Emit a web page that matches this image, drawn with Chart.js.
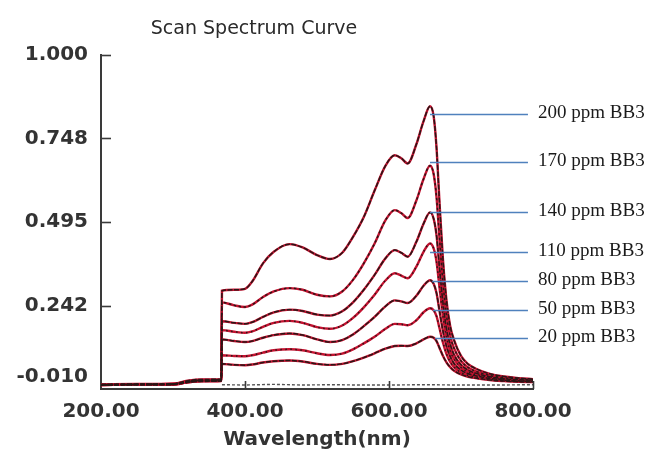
<!DOCTYPE html>
<html><head><meta charset="utf-8">
<script src="https://cdn.jsdelivr.net/npm/chart.js@4.4.1/dist/chart.umd.min.js"></script>
<style>html,body{margin:0;padding:0;background:#fff}canvas{display:block}</style>
</head><body>
<canvas id="c" width="652" height="456"></canvas>
<script>
const chartTitle = 'Scan Spectrum Curve';
const xAxisTitle = 'Wavelength(nm)';
const xTicks = [200, 400, 600, 800];
const yTicks = [-0.010, 0.242, 0.495, 0.748, 1.000];
const seriesNames = ['200 ppm BB3', '170 ppm BB3', '140 ppm BB3', '110 ppm BB3', '80 ppm BB3', '50 ppm BB3', '20 ppm BB3'];

const wavelengths = [200, 250, 300, 320, 340, 367, 368, 385, 400, 410, 425, 440, 462, 480, 500, 518, 535, 550, 565, 580, 595, 608, 617, 626, 638, 648, 657, 662, 666, 670, 675, 680, 685, 690, 700, 710, 720, 740, 760, 780, 800];

const ppm200 = [0.004,0.005,0.006,0.015,0.019,0.020, 0.287,0.290,0.293,0.315,0.370,0.405, 0.428,0.418,0.395,0.383,0.402, 0.450,0.510,0.590,0.665,0.697, 0.688,0.672,0.730,0.800,0.845, 0.815,0.720,0.560,0.380,0.255, 0.180,0.140,0.090,0.065,0.052, 0.036,0.028,0.023,0.020];
const ppm170 = [0.003,0.004,0.005,0.013,0.017,0.018, 0.252,0.243,0.238,0.245,0.268,0.285, 0.295,0.290,0.275,0.270,0.285, 0.320,0.370,0.430,0.500,0.531, 0.522,0.507,0.560,0.625,0.665, 0.640,0.570,0.450,0.310,0.210, 0.150,0.115,0.075,0.055,0.044, 0.031,0.024,0.020,0.018];
const ppm140 = [0.003,0.004,0.005,0.012,0.016,0.017, 0.195,0.190,0.187,0.192,0.208,0.222, 0.230,0.226,0.215,0.212,0.225, 0.252,0.290,0.335,0.385,0.410, 0.402,0.390,0.435,0.490,0.524, 0.505,0.455,0.360,0.250,0.170, 0.125,0.095,0.063,0.047,0.038, 0.027,0.021,0.018,0.016];
const ppm110 = [0.003,0.004,0.005,0.012,0.015,0.016, 0.168,0.163,0.160,0.164,0.178,0.190, 0.196,0.190,0.177,0.172,0.182, 0.205,0.237,0.275,0.318,0.340, 0.333,0.325,0.360,0.405,0.430, 0.415,0.375,0.300,0.210,0.145, 0.105,0.082,0.055,0.041,0.034, 0.025,0.019,0.016,0.014];
const ppm80 = [0.002,0.003,0.004,0.011,0.015,0.016, 0.140,0.135,0.132,0.135,0.145,0.153, 0.158,0.153,0.140,0.132,0.138, 0.155,0.180,0.208,0.240,0.258, 0.255,0.250,0.272,0.302,0.319, 0.308,0.280,0.228,0.165,0.118, 0.088,0.068,0.047,0.036,0.030, 0.022,0.017,0.014,0.013];
const ppm50 = [0.002,0.003,0.004,0.010,0.014,0.015, 0.092,0.090,0.089,0.092,0.100,0.107, 0.110,0.107,0.098,0.093,0.097, 0.110,0.128,0.148,0.172,0.187, 0.186,0.183,0.198,0.222,0.234, 0.228,0.210,0.175,0.130,0.095, 0.072,0.057,0.040,0.031,0.026, 0.019,0.015,0.013,0.012];
const ppm20 = [0.002,0.003,0.003,0.010,0.013,0.014, 0.066,0.063,0.062,0.064,0.070,0.074, 0.076,0.073,0.066,0.063,0.066, 0.074,0.085,0.098,0.112,0.120, 0.121,0.120,0.128,0.140,0.148, 0.145,0.135,0.115,0.090,0.070, 0.056,0.046,0.034,0.027,0.023, 0.017,0.014,0.012,0.011];

const blankWavelengths = [368, 400, 440, 480, 520, 560, 600, 650, 700, 750, 800];
const blankValues = [0.003, 0.002, 0.004, 0.002, 0.003, 0.002, 0.002, 0.003, 0.002, 0.002, 0.003];

const labelLevels = [0.823, 0.677, 0.526, 0.405, 0.317, 0.229, 0.143];
const labelLineStart = [657, 657, 657, 657, 660, 661, 664];
const labelLineEnd = 793;
const labelTextX = 807;

const allSeries = [ppm200, ppm170, ppm140, ppm110, ppm80, ppm50, ppm20];
const overlayDash = [[5,1.5],[2.5,2.5],[5,1.5],[1.5,3.5],[5,1.5],[1.5,3.5],[5,1.5]];

const datasets = [];
datasets.push({
  label: 'blank', order: 3,
  data: blankWavelengths.map((w, i) => ({x: w, y: blankValues[i]})),
  borderColor: '#555', borderWidth: 1.4, borderDash: [3, 2], pointRadius: 0, tension: 0
});
allSeries.forEach((s, k) => {
  const pts = wavelengths.map((w, i) => ({x: w, y: s[i]}));
  datasets.push({label: seriesNames[k], order: 2, data: pts, borderColor: '#c41230', borderWidth: 2.4,
    pointRadius: 0, cubicInterpolationMode: 'monotone'});
  datasets.push({label: seriesNames[k] + ' ', order: 1, data: pts, borderColor: '#2a1616', borderWidth: 1.5,
    borderDash: overlayDash[k], pointRadius: 0, cubicInterpolationMode: 'monotone'});
});

const axisColor = '#3a3a3a';
const decor = {
  id: 'decor',
  afterDraw(chart) {
    const {ctx, scales: {x, y}} = chart;
    ctx.save();
    ctx.strokeStyle = axisColor; ctx.lineWidth = 1.6;
    yTicks.forEach((v, i) => {
      if (i === 0) return;
      const py = Math.round(y.getPixelForValue(v)) + 0.5;
      ctx.beginPath(); ctx.moveTo(x.left, py); ctx.lineTo(x.left + 10, py); ctx.stroke();
    });
    xTicks.forEach((v, i) => {
      if (i === 0) return;
      const px = Math.round(x.getPixelForValue(v)) + 0.5;
      ctx.beginPath(); ctx.moveTo(px, y.bottom); ctx.lineTo(px, y.bottom - 8); ctx.stroke();
    });
    ctx.strokeStyle = '#4f81bd'; ctx.lineWidth = 1.4;
    ctx.fillStyle = '#1a1a1a';
    ctx.font = '19px "Liberation Serif"';
    ctx.textAlign = 'left'; ctx.textBaseline = 'middle';
    seriesNames.forEach((name, i) => {
      const py = Math.round(y.getPixelForValue(labelLevels[i])) + 0.5;
      ctx.beginPath();
      ctx.moveTo(x.getPixelForValue(labelLineStart[i]), py);
      ctx.lineTo(x.getPixelForValue(labelLineEnd), py);
      ctx.stroke();
      ctx.fillText(name, x.getPixelForValue(labelTextX), py - 1);
    });
    ctx.font = '19px "DejaVu Sans"';
    ctx.fillStyle = '#2a2a2a';
    ctx.textAlign = 'center';
    ctx.fillText(chartTitle, 254, 29);
    ctx.restore();
  }
};

const tickFont = {family: 'DejaVu Sans', size: 20, weight: 'bold'};
new Chart(document.getElementById('c'), {
  type: 'line',
  data: {datasets},
  options: {
    responsive: false, animation: false,
    layout: {padding: {top: 55, right: 119, bottom: 0, left: 0}},
    plugins: {legend: {display: false}, tooltip: {enabled: false}, title: {display: false}},
    scales: {
      x: {
        type: 'linear', min: 200, max: 800,
        afterBuildTicks: s => { s.ticks = xTicks.map(v => ({value: v})); },
        afterFit: s => { s.height = 67; },
        grid: {display: false, drawTicks: false},
        border: {display: true, color: axisColor, width: 2},
        ticks: {font: tickFont, color: '#333', padding: 11, maxRotation: 0, autoSkip: false,
          callback: v => Number(v).toFixed(2)},
        title: {display: true, text: xAxisTitle, font: tickFont, color: '#333', padding: {top: 0, bottom: 4}}
      },
      y: {
        type: 'linear', min: -0.010, max: 1.000,
        afterBuildTicks: s => { s.ticks = yTicks.map(v => ({value: v})); },
        afterFit: s => { s.width = 101; },
        grid: {display: false, drawTicks: false},
        border: {display: true, color: axisColor, width: 2},
        ticks: {font: tickFont, color: '#333', padding: 13, autoSkip: false,
          callback: (v, i) => i === 0 ? [Number(v).toFixed(3), ''] : Number(v).toFixed(3)}
      }
    }
  },
  plugins: [decor]
});
</script>
</body></html>
